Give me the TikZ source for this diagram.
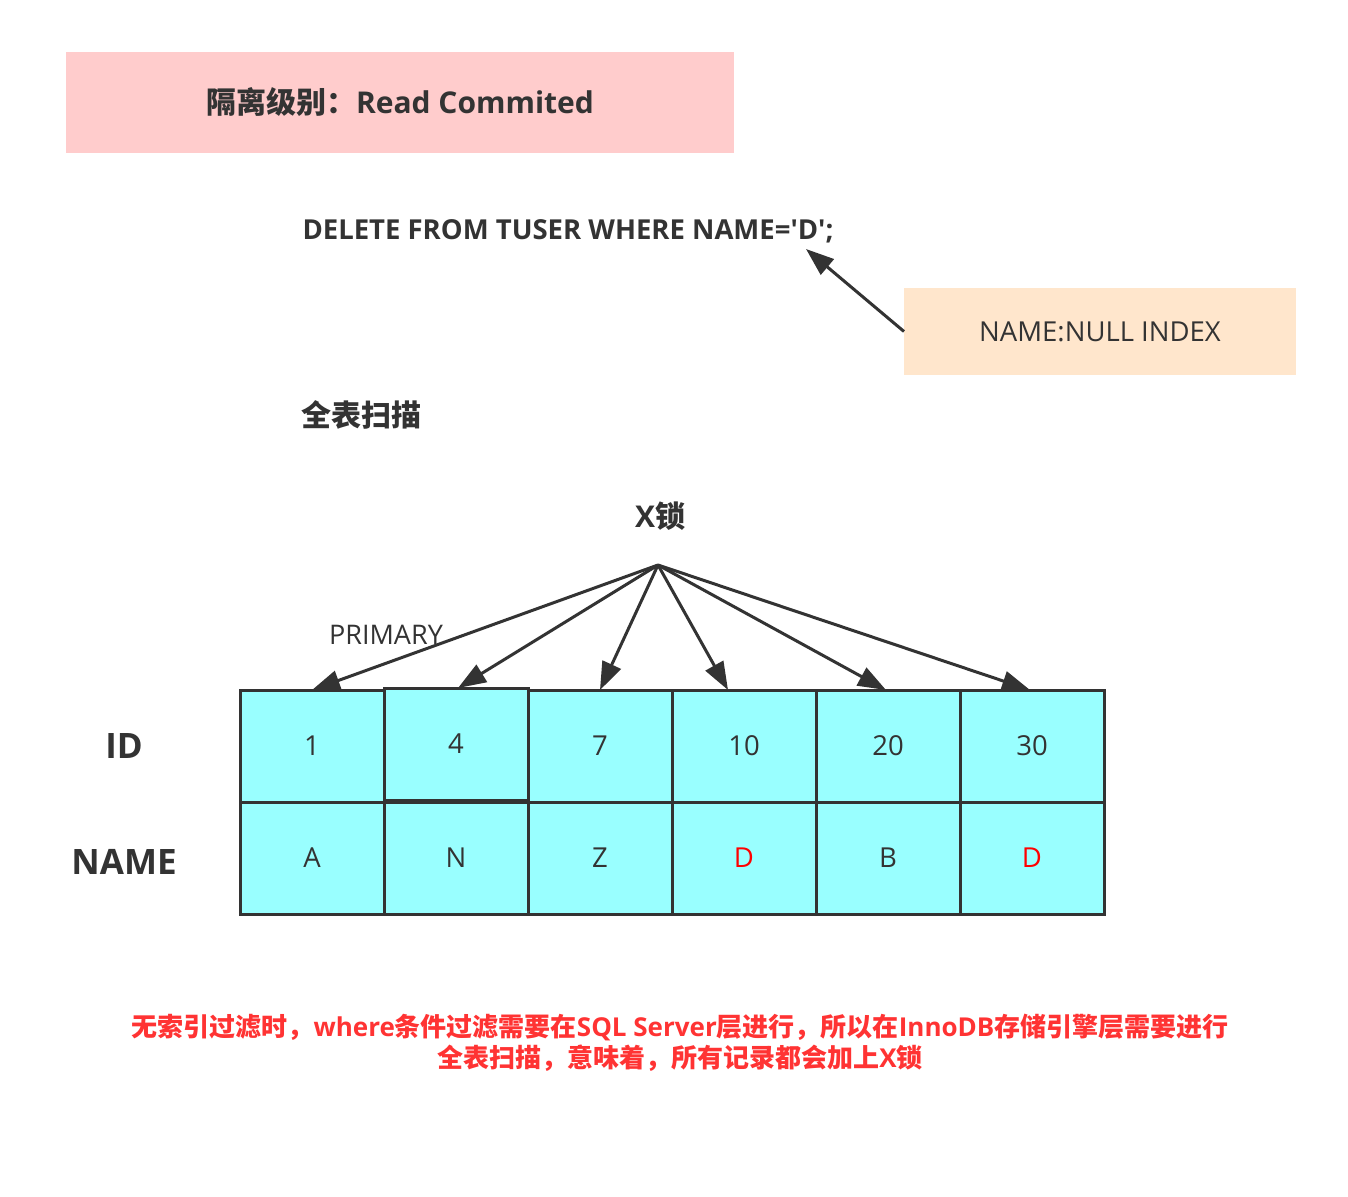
\documentclass[tikz,border=0pt]{standalone}
\usepackage{fontspec}
\setmainfont{Open Sans}
\newfontfamily\cjk{Noto Sans CJK SC}
\usetikzlibrary{arrows.meta}
\definecolor{ink}{HTML}{333333}
\definecolor{pinkbg}{HTML}{FFCCCC}
\definecolor{peach}{HTML}{FFE6CC}
\definecolor{cyancell}{HTML}{99FFFF}
\definecolor{redtxt}{HTML}{FF3333}
\definecolor{redD}{HTML}{FF0000}
\newcommand\fsz[1]{\fontsize{#1}{#1}\selectfont}
\begin{document}
\begin{tikzpicture}[x=1pt,y=-1pt,
  every node/.style={text=ink, inner sep=0pt, outer sep=0pt},
  cell/.style={draw=ink, fill=cyancell, line width=3pt, minimum width=144pt, minimum height=112pt, font=\fsz{27.5}},
  arr/.style={draw=ink, line width=3pt, line join=round, -{Triangle[length=28pt,width=20pt]}},
  heading/.style={font=\bfseries\fsz{30}},
  rowlabel/.style={font=\bfseries\fsz{35}}]
\useasboundingbox[fill=white] (0,0) rectangle (1348,1196);

% title
\node[fill=pinkbg, minimum width=668pt, minimum height=101pt, font=\bfseries\fsz{30}] (title) at (400,102.5)
  {{\cjk 隔离级别：}Read Commited};

% SQL statement
\node[font=\bfseries\fsz{27.5}] (sql) at (568,231) {DELETE FROM TUSER WHERE NAME=\textquotesingle D\textquotesingle;};
\coordinate (qtip) at (806,249);

% index note
\node[fill=peach, minimum width=392pt, minimum height=87pt, font=\fsz{27.5}] (nbox) at (1100,331.5) {NAME:NULL INDEX};
\draw[arr] (nbox.west) -- (qtip);

% full table scan label
\node[heading] (scan) at (361,415) {\cjk 全表扫描};

% X lock
\node[heading] (xlock) at (660,516) {X{\cjk 锁}};
\coordinate (apex) at (658,565);

% PRIMARY label
\node[font=\fsz{27}] (primary) at (386,635) {PRIMARY};

% row labels
\node[rowlabel] (idlab) at (124,746) {ID};
\node[rowlabel] (namelab) at (124,862) {NAME};

% ID row
\node[cell] (c1) at (312,746) {1};
\node[cell] (c4) at (456,744) {4};
\node[cell] (c7) at (600,746) {7};
\node[cell] (c10) at (744,746) {10};
\node[cell] (c20) at (888,746) {20};
\node[cell] (c30) at (1032,746) {30};

% NAME row
\node[cell] (nA) at (312,858) {A};
\node[cell] (nN) at (456,858) {N};
\node[cell] (nZ) at (600,858) {Z};
\node[cell, text=redD] (nD1) at (744,858) {D};
\node[cell] (nB) at (888,858) {B};
\node[cell, text=redD] (nD2) at (1032,858) {D};

% lock arrows
\draw[arr] (apex) -- (c1.north);
\draw[arr] (apex) -- ([xshift=2pt]c4.north);
\draw[arr] (apex) -- (c7.north);
\draw[arr] (apex) -- ([xshift=-16pt]c10.north);
\draw[arr] (apex) -- ([xshift=-2pt]c20.north);
\draw[arr] (apex) -- ([xshift=-2pt]c30.north);

% conclusion
\node[align=center, text=redtxt, font=\bfseries\fontsize{26}{31}\selectfont] (note) at (680,1043)
  {{\cjk 无索引过滤时，}where{\cjk 条件过滤需要在}SQL Server{\cjk 层进行，所以在}InnoDB{\cjk 存储引擎层需要进行}\\
   {\cjk 全表扫描，意味着，所有记录都会加上}X{\cjk 锁}};
\end{tikzpicture}
\end{document}
